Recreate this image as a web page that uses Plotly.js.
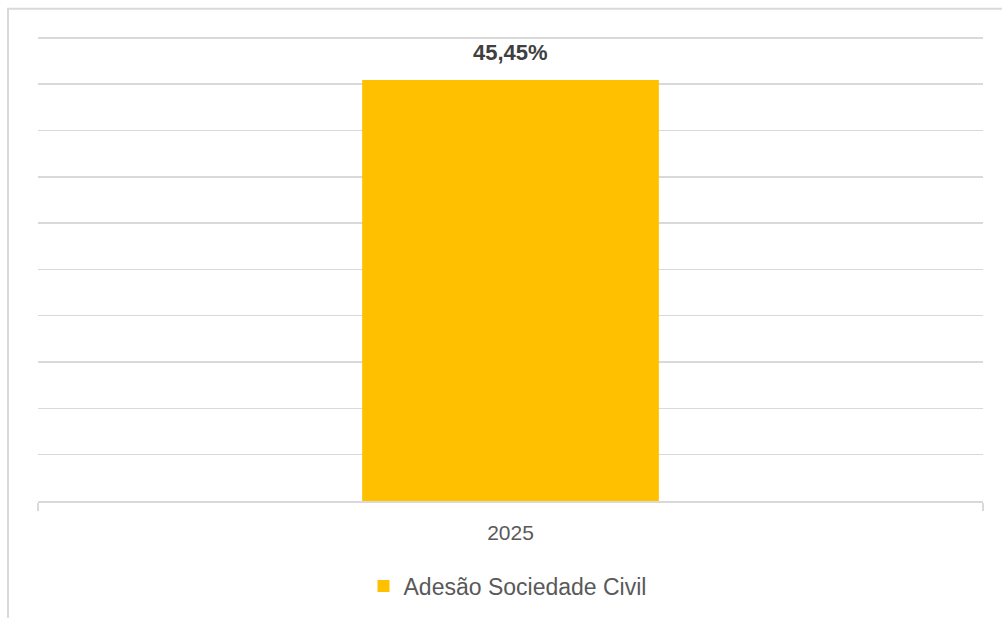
<!DOCTYPE html>
<html>
<head>
<meta charset="utf-8">
<script src="https://cdn.plot.ly/plotly-3.0.1.min.js"></script>
<style>
html,body{margin:0;padding:0;background:#fff;}
#chart{width:1002px;height:618px;}
</style>
</head>
<body>
<div id="chart"></div>
<script>
const categories = ["2025"];
const seriesName = "Adesão Sociedade Civil";
const values = [45.45];
const valueLabels = ["45,45%"];

const FONT = "Liberation Sans, Arial, sans-serif";

const W = 1002, H = 618;
const M = {l: 38, r: 19, t: 35.22, b: 117};
const plotW = W - M.l - M.r, plotH = H - M.t - M.b;

const trace = {
  type: "bar",
  x: categories,
  y: values,
  name: seriesName,
  marker: {color: "#FFC000"},
  width: 0.314,
  hoverinfo: "skip"
};

const annotations = categories.map((c, i) => ({
  x: i, y: values[i], xref: "x", yref: "y",
  text: "<b>" + valueLabels[i] + "</b>",
  showarrow: false, yanchor: "bottom", yshift: 13,
  font: {family: FONT, size: 22, color: "#404040"}
}));

// light chart-area border (left and top edges visible)
const bLeft = (8 - M.l) / plotW, bRight = (W - M.l) / plotW;
const bTop = (H - M.b - 9) / plotH, bBottom = (H - M.b - H) / plotH;

const layout = {
  width: W, height: H,
  margin: M,
  paper_bgcolor: "#ffffff", plot_bgcolor: "#ffffff",
  font: {family: FONT, color: "#595959"},
  showlegend: true,
  legend: {
    orientation: "h", x: 0.5 - 3 / plotW, xanchor: "center",
    yref: "container", y: (H - 586) / H, yanchor: "middle",
    font: {family: FONT, size: 23, color: "#595959"}
  },
  xaxis: {
    type: "category",
    range: [-0.5, 0.5],
    showline: true, linecolor: "#d9d9d9", linewidth: 1.5,
    ticks: "outside", tickson: "boundaries", ticklen: 8, tickcolor: "#d9d9d9", tickwidth: 1.5,
    ticklabelstandoff: 12,
    showgrid: false,
    tickfont: {family: FONT, size: 21, color: "#595959"},
    fixedrange: true
  },
  yaxis: {
    range: [0, 50.3], dtick: 5, tick0: 0,
    showticklabels: false, ticks: "",
    showgrid: true, gridcolor: "#d9d9d9", gridwidth: 1.5,
    zeroline: false, showline: false,
    fixedrange: true
  },
  annotations: annotations,
  shapes: [{
    type: "path", xref: "paper", yref: "paper",
    path: `M ${bLeft} ${bBottom} L ${bLeft} ${bTop} L ${bRight} ${bTop}`,
    line: {color: "#d9d9d9", width: 2}
  }]
};

Plotly.newPlot("chart", [trace], layout, {displayModeBar: false, staticPlot: true});
</script>
</body>
</html>
